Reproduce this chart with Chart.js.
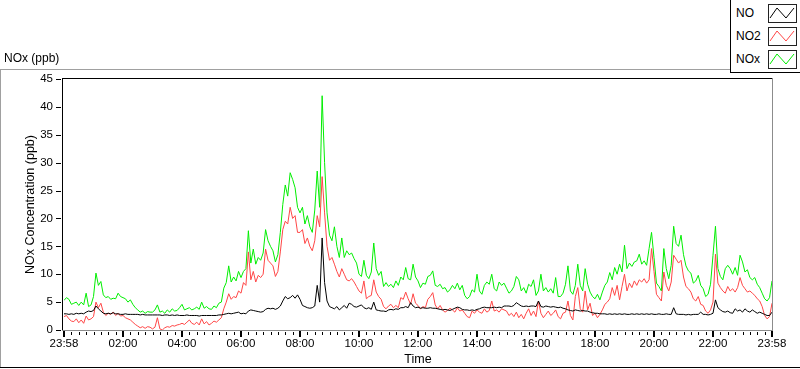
<!DOCTYPE html>
<html>
<head>
<meta charset="utf-8">
<script src="https://cdn.jsdelivr.net/npm/chart.js@4.4.1/dist/chart.umd.min.js"></script>
<style>
  html, body { margin: 0; padding: 0; background: #fff; }
  #wrap { position: relative; width: 800px; height: 369px; overflow: hidden; font-family: "Liberation Sans", Arial, sans-serif; color: #000; }
  #chart { position: absolute; left: 0; top: 0; }
  #plot-name { position: absolute; left: 4px; top: 51px; font-size: 12px; }
  #legend { position: absolute; left: 730px; top: -1px; width: 71px; height: 74px; box-sizing: border-box;
            border-left: 1px solid #000; border-bottom: 1px solid #000; background: #fff; }
  .row { position: absolute; left: 5px; width: 62px; height: 19px; font-size: 12px; line-height: 19px; }
  .row svg { position: absolute; left: 32px; top: 0; }
</style>
</head>
<body>
<div id="wrap">
  <canvas id="chart" width="800" height="369"></canvas>
  <div id="plot-name">NOx (ppb)</div>
  <div id="legend"></div>
</div>
<script>
// one sample every 5 minutes, starting 23:58, 12 samples per row = 1 hour
const sampleStep = 5;

const noValues = [
  2.9,2.9,2.8,2.9,2.8,3.0,2.9,3.0,2.9,3.2,3.4,3.3,
  3.5,4.3,3.8,3.4,3.0,2.9,3.0,2.9,3.1,2.9,2.9,2.8,
  2.8,2.9,2.8,2.8,2.8,2.8,2.8,2.7,2.8,2.7,2.7,2.7,
  2.7,2.7,2.7,2.7,2.6,2.7,2.7,2.6,2.7,2.6,2.7,2.6,
  2.6,2.6,2.7,2.6,2.6,2.6,2.6,2.5,2.6,2.6,2.6,2.6,
  2.6,2.6,2.6,2.7,2.7,2.8,2.9,3.0,2.9,3.0,3.1,3.2,
  2.9,3.0,2.9,3.4,3.6,3.5,3.4,3.3,3.2,3.3,3.7,3.9,
  3.8,3.9,3.7,3.9,4.3,5.2,6.0,5.6,5.8,6.2,5.7,6.3,
  5.5,4.4,4.2,4.0,3.9,4.0,4.3,8.0,5.0,16.5,8.5,5.2,
  4.2,4.0,3.8,4.2,3.6,4.0,4.4,3.9,4.8,4.6,4.2,4.1,
  4.3,4.5,4.0,3.8,4.0,3.7,5.0,3.6,3.5,3.4,3.4,3.3,
  3.6,3.7,3.6,3.8,3.7,4.0,4.0,4.2,4.0,4.9,4.3,4.0,
  4.1,3.9,4.0,3.9,3.9,4.0,3.9,3.9,3.8,3.7,3.6,3.7,
  3.6,3.5,3.7,3.9,4.1,4.0,3.7,3.6,3.6,3.5,3.6,3.5,
  3.7,3.8,4.0,4.1,4.0,4.0,4.0,4.1,4.0,4.1,4.0,4.3,
  4.3,4.3,4.2,4.4,4.9,4.6,4.3,4.2,4.3,4.2,4.3,4.3,
  4.2,5.2,4.2,4.1,4.3,4.2,4.1,4.2,4.1,4.0,4.1,3.9,
  3.8,3.6,3.5,3.4,3.6,3.5,3.4,3.5,3.4,3.4,3.2,3.1,
  3.0,3.0,2.9,2.9,2.9,2.8,2.9,2.8,2.9,2.8,2.9,2.8,
  2.9,2.8,2.8,2.9,2.8,2.9,2.8,2.9,2.8,2.9,2.8,2.9,
  2.8,2.8,2.9,2.8,2.8,2.9,2.8,2.8,4.0,2.9,2.8,2.8,
  2.8,2.7,2.8,2.7,2.8,2.8,2.8,3.2,2.8,2.8,2.7,2.8,
  3.0,5.4,4.0,3.6,3.3,3.2,3.4,3.1,3.0,3.8,3.4,3.6,
  3.2,3.8,3.4,3.2,3.6,3.3,3.0,3.2,3.0,2.8,2.6,2.6,
  3.2
];

const no2Values = [
  2.4,2.6,2.0,1.6,1.5,2.0,1.3,1.8,1.2,2.5,1.8,2.0,
  2.4,5.0,4.0,4.8,3.2,2.6,3.0,2.8,3.2,2.6,3.0,2.5,
  2.6,2.2,2.0,1.8,1.4,1.0,0.7,0.4,0.6,0.3,0.6,0.5,
  0.2,0.5,2.2,0.2,0.0,0.4,0.6,0.5,0.8,0.7,0.9,1.0,
  1.2,1.0,1.4,1.8,1.2,1.0,1.4,0.9,2.0,1.1,1.5,0.9,
  1.2,1.6,1.4,1.8,2.2,3.8,5.0,6.5,5.5,6.0,5.8,7.0,
  6.6,8.5,8.0,14.0,9.0,10.5,8.6,9.8,9.4,10.0,14.5,12.5,
  12.0,11.5,9.6,10.5,14.0,18.0,19.5,19.0,22.0,20.0,20.5,17.5,
  17.5,18.0,15.5,16.5,15.0,14.2,16.0,20.5,18.5,27.5,21.0,15.0,
  12.5,13.0,11.8,10.5,9.5,11.0,10.0,9.0,8.8,9.2,8.6,7.8,
  7.0,6.6,8.8,5.6,6.0,6.2,9.0,6.8,6.0,5.5,4.2,3.8,
  4.3,4.6,4.0,4.4,4.0,5.8,5.5,6.8,5.6,4.6,6.5,4.8,
  4.4,3.8,4.2,4.0,5.5,6.0,6.7,4.5,3.8,4.4,3.6,3.2,
  3.5,3.9,3.6,3.2,4.0,3.4,3.6,3.0,2.4,2.2,3.4,3.0,
  3.6,3.2,3.0,3.8,3.2,3.5,5.2,3.4,3.6,3.2,3.8,3.6,
  3.4,2.6,3.0,2.4,3.2,2.2,2.8,2.0,3.0,3.8,2.6,3.4,
  2.4,5.2,3.0,2.2,2.8,3.4,2.6,3.0,3.6,2.4,2.0,3.0,
  3.2,5.2,2.6,1.8,6.0,7.6,3.8,3.2,7.0,3.6,4.8,2.6,
  3.0,2.2,2.8,3.6,4.6,5.0,5.6,7.6,6.2,8.0,5.4,7.8,
  10.0,7.0,8.4,7.6,8.8,8.0,9.0,8.6,9.2,8.4,9.0,14.6,
  10.5,6.4,5.8,5.2,10.4,8.0,7.0,8.6,13.4,12.7,12.0,12.5,
  9.5,7.8,7.4,6.8,5.6,5.2,6.0,4.6,4.4,3.4,3.0,3.6,
  5.0,13.6,8.4,7.6,7.0,6.6,7.8,7.0,7.4,6.8,7.6,9.4,
  8.0,7.4,6.8,7.0,6.6,6.2,5.6,5.2,4.2,2.6,2.0,2.4,
  4.8
];

const noxValues = [
  5.3,5.8,5.5,4.6,4.8,5.0,4.4,5.0,4.5,6.6,4.2,4.5,
  6.0,10.2,8.0,8.7,6.3,5.8,6.0,5.5,5.7,5.6,6.6,6.0,
  5.8,5.6,5.0,5.4,4.6,4.0,3.6,3.2,3.4,3.0,3.3,3.2,
  3.2,3.6,4.5,3.2,3.4,3.0,3.6,3.2,3.8,3.4,3.5,4.0,
  4.6,3.6,3.8,4.0,3.6,3.8,4.1,3.7,5.0,3.9,4.2,3.8,
  3.7,4.3,4.0,4.8,5.0,7.5,8.5,11.5,8.6,9.5,8.8,10.5,
  9.4,10.5,11.0,17.8,12.0,14.5,11.8,13.0,12.5,13.8,18.0,16.0,
  15.0,14.2,12.2,13.5,17.5,22.5,26.0,24.0,28.2,27.0,25.5,22.0,
  21.0,22.0,19.0,20.5,18.5,17.5,21.5,28.5,22.0,42.0,30.0,21.0,
  17.0,16.0,18.5,15.0,13.0,16.5,13.0,14.2,13.5,13.8,12.8,12.0,
  10.0,9.6,12.5,9.8,9.2,10.4,15.6,11.0,9.8,10.5,7.8,8.5,
  7.8,8.2,7.6,8.8,8.0,9.5,9.0,11.2,9.2,9.0,11.8,9.5,
  8.8,7.6,8.4,8.2,9.6,9.8,10.6,8.0,7.8,8.2,7.4,7.6,
  6.8,7.2,8.0,7.4,8.4,7.2,8.0,6.2,5.6,6.0,7.2,6.8,
  10.0,7.0,6.4,8.0,8.6,8.2,10.0,7.4,7.0,8.6,8.0,8.4,
  7.5,6.6,7.0,7.8,9.6,9.0,7.0,7.6,6.6,8.2,7.8,9.0,
  6.2,7.0,10.0,7.0,7.6,6.8,7.4,6.6,9.4,6.0,6.0,6.6,
  8.2,11.5,7.0,6.4,8.0,11.8,8.0,7.0,11.0,8.2,6.8,6.0,
  5.6,6.4,5.4,6.8,8.0,8.6,10.3,9.0,11.2,10.0,11.8,10.4,
  15.2,11.0,12.0,11.4,12.2,12.4,13.6,11.8,12.4,11.6,14.6,17.5,
  13.0,8.4,7.8,7.0,14.6,11.0,9.2,11.6,18.6,15.5,15.0,17.0,
  13.5,11.5,10.6,10.2,8.4,8.8,9.8,8.0,7.4,6.0,6.4,8.2,
  13.4,18.6,11.0,9.6,9.0,11.0,11.6,11.0,10.0,11.2,9.8,13.4,
  12.2,10.4,10.8,9.4,9.0,9.4,8.2,7.6,6.6,5.6,5.2,5.8,
  8.8
];

const xTickMinutes = [0, 120, 240, 360, 480, 600, 720, 840, 960, 1080, 1200, 1320, 1440];
const xTickLabels = ['23:58', '02:00', '04:00', '06:00', '08:00', '10:00', '12:00',
                     '14:00', '16:00', '18:00', '20:00', '22:00', '23:58'];
const minorTickStep = 15;

const seriesNames = ['NO', 'NO2', 'NOx'];
const seriesColors = ['#000000', '#ff4646', '#00ee00'];

const FONT = 'Liberation Sans';

function toPoints(values) {
    return values.map((v, i) => ({ x: i * sampleStep, y: v }));
}

// legend box at the top right
const legendEl = document.getElementById('legend');
seriesNames.forEach((name, i) => {
    const row = document.createElement('div');
    row.className = 'row';
    row.style.top = (5 + i * 23) + 'px';
    row.innerHTML = '<span>' + name + '</span>' +
        '<svg width="29" height="19" viewBox="0 0 29 19">' +
        '<rect x="0.5" y="0.5" width="28" height="18" fill="#fff" stroke="#222"/>' +
        '<polyline points="2,14 9,4 18,14 26,4" fill="none" stroke="' + seriesColors[i] + '" stroke-width="1"/>' +
        '</svg>';
    legendEl.appendChild(row);
});

// frame, axis lines and tick marks the way the original panel draws them
const framePlugin = {
    id: 'frame',
    afterDraw(chart) {
        const { ctx, chartArea: a, scales: { x, y } } = chart;
        ctx.save();

        // outer panel
        ctx.fillStyle = '#a0a0a0';
        ctx.fillRect(0, 69, 730, 1);
        ctx.fillRect(0, 69, 1, 299);
        ctx.fillStyle = '#000';
        ctx.fillRect(0, 367, 800, 1);

        // plot frame
        ctx.fillStyle = '#000';
        ctx.fillRect(62, a.top - 1, a.right - 62 + 1, 1);
        ctx.fillRect(62, a.top - 1, 1, a.bottom - a.top + 2);
        ctx.fillStyle = '#8c8c8c';
        ctx.fillRect(a.right, a.top - 1, 1, a.bottom - a.top + 2);
        ctx.fillRect(62, a.bottom, a.right - 62 + 1, 1);

        // y tick marks
        ctx.fillStyle = '#000';
        for (let v = 0; v <= 45; v += 5) {
            const py = Math.round(y.getPixelForValue(v));
            ctx.fillRect(56, py, 5, 1);
        }

        // x tick marks, long on labelled hours
        for (let m = 0; m <= 1440; m += minorTickStep) {
            const px = Math.round(x.getPixelForValue(m));
            if (xTickMinutes.includes(m)) {
                ctx.fillRect(px - 1, a.bottom + 1, 2, 6);
            } else {
                ctx.fillRect(px, a.bottom + 2, 1, 3);
            }
        }
        ctx.restore();
    }
};

new Chart(document.getElementById('chart'), {
    type: 'line',
    data: {
        datasets: [
            { label: seriesNames[0], data: toPoints(noValues), borderColor: seriesColors[0] },
            { label: seriesNames[1], data: toPoints(no2Values), borderColor: seriesColors[1] },
            { label: seriesNames[2], data: toPoints(noxValues), borderColor: seriesColors[2] }
        ]
    },
    options: {
        responsive: false,
        animation: false,
        layout: { padding: { top: 79, right: 28, left: 0, bottom: 0 } },
        elements: {
            line: { borderWidth: 1, tension: 0, fill: false },
            point: { radius: 0, hoverRadius: 0 }
        },
        scales: {
            x: {
                type: 'linear',
                min: 0,
                max: 1440,
                afterBuildTicks(scale) {
                    scale.ticks = xTickMinutes.map(v => ({ value: v }));
                },
                afterFit(scale) { scale.height = 39; },
                ticks: {
                    autoSkip: false,
                    maxRotation: 0,
                    padding: 7,
                    color: '#000',
                    font: { family: FONT, size: 11.5 },
                    callback: (value, index) => xTickLabels[index]
                },
                grid: { display: false, drawTicks: false },
                border: { display: false },
                title: {
                    display: true,
                    text: 'Time',
                    color: '#000',
                    font: { family: FONT, size: 12.5 },
                    padding: { top: 0, bottom: 1.5 }
                }
            },
            y: {
                min: 0,
                max: 45,
                afterFit(scale) { scale.width = 64; },
                ticks: {
                    stepSize: 5,
                    padding: 11,
                    color: '#000',
                    font: { family: FONT, size: 11.5 }
                },
                grid: { display: false, drawTicks: false },
                border: { display: false },
                title: {
                    display: true,
                    text: 'NOx Concentration (ppb)',
                    color: '#000',
                    font: { family: FONT, size: 12.5 },
                    padding: { top: 23.5, bottom: 0 }
                }
            }
        },
        plugins: {
            legend: { display: false },
            tooltip: { enabled: false }
        }
    },
    plugins: [framePlugin]
});
</script>
</body>
</html>
